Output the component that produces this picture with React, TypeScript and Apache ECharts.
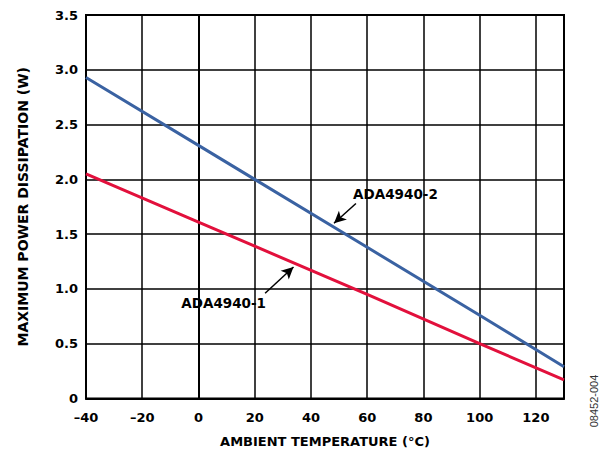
import React, { useEffect, useRef } from "react";
import * as echarts from "echarts";

const temps = [-40, 0, 20, 60, 100, 130];
const ada2 = [2.93, 2.31, 2.0, 1.38, 0.76, 0.29];
const ada1 = [2.05, 1.61, 1.39, 0.95, 0.5, 0.17];
const labels = ["ADA4940-2", "ADA4940-1"];
const labelPos = [
  [55, 1.87],
  [24, 0.87],
];
const arrows = [
  [[56, 1.78], [48.2, 1.6]],
  [[23.7, 0.96], [33.8, 1.2]],
];
const xTitle = "AMBIENT TEMPERATURE (°C)";
const yTitle = "MAXIMUM POWER DISSIPATION (W)";
const docId = "08452-004";

const FONT = "DejaVu Sans";

export default function App() {
  const ref = useRef<HTMLDivElement>(null);
  useEffect(() => {
    const chart = echarts.init(ref.current!, null, { renderer: "svg" });
    const mk = (ys: number[]) => temps.map((t, i) => [t, ys[i]]);
    chart.setOption({
      animation: false,
      grid: {
        left: 86,
        top: 15,
        right: 39,
        bottom: 50.5,
        show: true,
        borderColor: "#000",
        borderWidth: 2,
        backgroundColor: "transparent",
        outerBoundsMode: "none",
        containLabel: false,
      },
      xAxis: {
        type: "value",
        min: -40,
        max: 130,
        interval: 20,
        name: xTitle,
        nameLocation: "middle",
        nameGap: 36,
        nameTextStyle: { fontFamily: FONT, fontWeight: "bold", fontSize: 13, color: "#000" },
        axisLine: { show: true, lineStyle: { color: "#000", width: 2 } },
        axisTick: { show: false },
        splitLine: { show: true, lineStyle: { color: "#000", width: 1.5 } },
        axisLabel: {
          fontFamily: FONT,
          fontWeight: "bold",
          fontSize: 13,
          color: "#000",
          margin: 12,
          formatter: (v: number) => (v === 130 ? "" : v < 0 ? "\u2013" + Math.abs(v) : String(v)),
        },
      },
      yAxis: {
        type: "value",
        min: 0,
        max: 3.5,
        interval: 0.5,
        name: yTitle,
        nameLocation: "middle",
        nameGap: 56,
        nameTextStyle: { fontFamily: FONT, fontWeight: "bold", fontSize: 14, color: "#000" },
        axisLine: { show: true, lineStyle: { color: "#000", width: 2 } },
        axisTick: { show: false },
        splitLine: { show: true, lineStyle: { color: "#000", width: 1.5 } },
        axisLabel: {
          fontFamily: FONT,
          fontWeight: "bold",
          fontSize: 13,
          color: "#000",
          margin: 8,
          formatter: (v: number) => (v === 0 ? "0" : v.toFixed(1)),
        },
      },
      graphic: [
        {
          type: "text",
          x: 594,
          y: 401,
          rotation: Math.PI / 2,
          style: {
            text: docId,
            fontFamily: "Liberation Sans",
            fontSize: 11,
            fill: "#333",
            align: "center",
            verticalAlign: "middle",
          },
        },
      ],
      series: [
        {
          type: "line",
          data: mk(ada2),
          symbol: "none",
          lineStyle: { color: "#3A62A2", width: 3 },
          z: 3,
          markLine: {
            silent: true,
            symbol: ["none", "arrow"],
            symbolSize: [9, 12],
            label: { show: false },
            lineStyle: { color: "#000", width: 1.5, type: "solid" },
            data: arrows.map((a) => [{ coord: a[0] }, { coord: a[1] }]),
          },
          markPoint: {
            silent: true,
            symbol: "circle",
            symbolSize: 0,
            data: labels.map((t, i) => ({
              coord: labelPos[i],
              label: {
                show: true,
                formatter: t,
                fontFamily: FONT,
                fontWeight: "bold",
                fontSize: 13.5,
                color: "#000",
                position: i === 0 ? "right" : "left",
                distance: 0,
              },
            })),
          },
        },
        {
          type: "line",
          data: mk(ada1),
          symbol: "none",
          lineStyle: { color: "#E2103C", width: 3 },
          z: 3,
        },
      ],
    });
    return () => chart.dispose();
  }, []);
  return (
    <div
      ref={ref}
      style={{ position: "fixed", left: 0, top: 0, width: 603, height: 449, background: "#fff" }}
    />
  );
}
